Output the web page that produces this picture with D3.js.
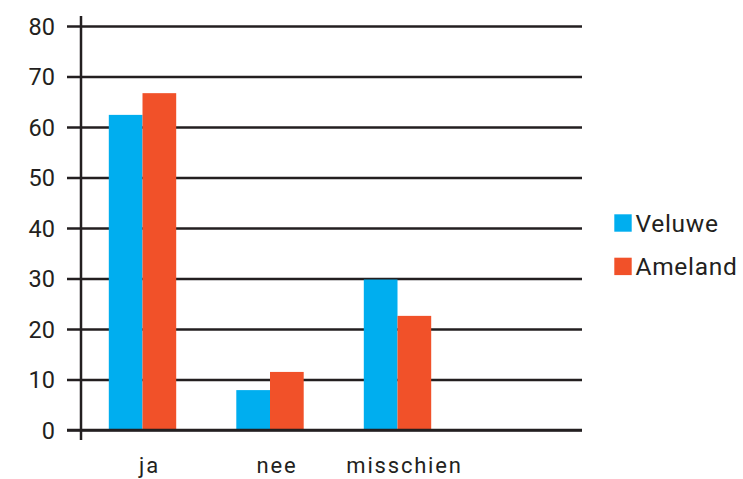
<!DOCTYPE html>
<html><head><meta charset="utf-8">
<script src="https://cdn.jsdelivr.net/npm/d3@7"></script>
<style>html,body{margin:0;padding:0;background:#fff;}</style>
</head><body>
<script>
const categories = ["ja", "nee", "misschien", ""];
const seriesNames = ["Veluwe", "Ameland"];
const veluwe = [62.4, 7.9, 29.8];
const ameland = [66.7, 11.5, 22.6];
const yTicks = [0, 10, 20, 30, 40, 50, 60, 70, 80];
const colors = ["#00aeef", "#f15129"];

const W = 743, H = 479;
const ink = "#231f20";
const font = "Roboto, 'DejaVu Sans', sans-serif";
const svg = d3.select("body").append("svg").attr("width", W).attr("height", H);

const x = d3.scaleBand().domain(categories).range([78.75, 588.75]).paddingInner(0).paddingOuter(0);
const y = d3.scaleLinear().domain([0, 80]).range([430, 26]);
const inner = d3.scaleBand().domain(seriesNames).range([0, 67.4]);

// gridlines
const yAxis = d3.axisLeft(y).tickValues(yTicks).tickSize(-(582 - 67)).tickPadding(12).tickFormat(d3.format("d"));
const ga = svg.append("g").attr("transform", "translate(67,0)").call(yAxis);
ga.select(".domain").remove();
ga.selectAll(".tick line").attr("stroke", ink).attr("stroke-width", 2.5);
ga.selectAll(".tick text").attr("fill", ink).attr("font-family", font).attr("font-size", 23.5).attr("x", -12).attr("dy", "0.36em");

// bars
const data = categories.slice(0, 3).map((c, i) => ({ c, vals: [veluwe[i], ameland[i]] }));
const groups = svg.append("g").selectAll("g").data(data).join("g")
  .attr("transform", d => `translate(${x(d.c) + x.bandwidth() / 2 - 33.7},0)`);
groups.selectAll("rect").data(d => d.vals.map((v, j) => ({ v, s: seriesNames[j], j })))
  .join("rect")
  .attr("x", d => inner(d.s))
  .attr("width", inner.bandwidth())
  .attr("y", d => y(d.v))
  .attr("height", d => y(0) - y(d.v))
  .attr("fill", d => colors[d.j]);

// redraw baseline over bars
svg.append("line").attr("x1", 67).attr("x2", 582).attr("y1", y(0)).attr("y2", y(0))
  .attr("stroke", ink).attr("stroke-width", 2.5);

// vertical axis line
svg.append("line").attr("x1", 81).attr("x2", 81).attr("y1", 16).attr("y2", 440)
  .attr("stroke", ink).attr("stroke-width", 2.5);

// category labels
const xAxis = d3.axisBottom(x).tickSize(0).tickPadding(0);
const gx = svg.append("g").attr("transform", "translate(7,0)").call(xAxis);
gx.select(".domain").remove();
gx.selectAll(".tick text").attr("y", 473).attr("dy", 0).attr("fill", ink)
  .attr("font-family", font).attr("font-size", 22).attr("letter-spacing", 1.8);

// legend
const leg = svg.append("g");
seriesNames.forEach((s, i) => {
  const base = 231.7 + i * 43.4;
  leg.append("rect").attr("x", 614.3).attr("y", base - 17.4).attr("width", 17.4).attr("height", 17.4).attr("fill", colors[i]);
  leg.append("text").attr("x", 635.5).attr("y", base).attr("fill", ink)
    .attr("font-family", font).attr("font-size", 24.5).attr("letter-spacing", 0.7).text(s);
});
</script>
</body></html>
